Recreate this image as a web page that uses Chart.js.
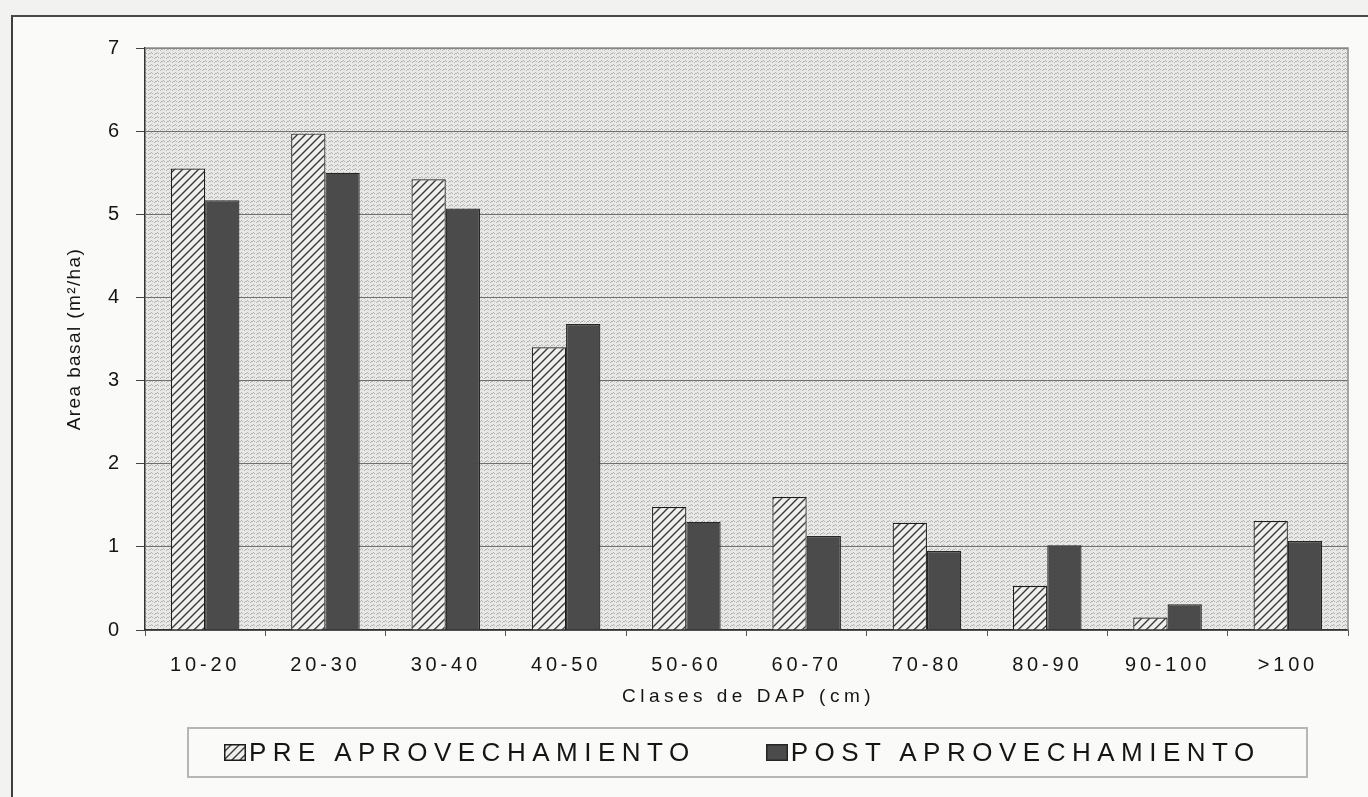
<!DOCTYPE html>
<html>
<head>
<meta charset="utf-8">
<script src="https://cdn.jsdelivr.net/npm/chart.js@4.4.1/dist/chart.umd.min.js"></script>
<style>
  html, body { margin: 0; padding: 0; background: #f2f2f0; overflow: hidden; }
  #sheet { position: absolute; left: 11px; top: 15px; width: 1400px; height: 820px;
           border-left: 2px solid #3e3e3e; border-top: 2px solid #4a4a4a; background: #fafaf9; }
  #wrap { position: absolute; left: 0; top: 0; width: 1368px; height: 797px; }
  #legend { position: absolute; left: 187px; top: 727px; width: 1121px; height: 51px; box-sizing: border-box;
            border: 2px solid #b6b6b4; display: flex; align-items: center; padding-left: 35px; gap: 70px;
            font: 26px "Liberation Sans", Arial, sans-serif; letter-spacing: 6.5px; color: #151515; }
  .item { display: flex; align-items: center; white-space: nowrap; }
  .item canvas { margin-right: 3px; }
</style>
</head>
<body>
<div id="sheet"></div>
<div id="wrap"><canvas id="dap-chart" width="1368" height="797"></canvas></div>
<div id="legend"></div>
<script>
const categories = ["10-20", "20-30", "30-40", "40-50", "50-60", "60-70", "70-80", "80-90", "90-100", ">100"];
const preValues = [5.55, 5.97, 5.42, 3.40, 1.48, 1.60, 1.29, 0.53, 0.15, 1.31];
const postValues = [5.17, 5.50, 5.07, 3.68, 1.30, 1.13, 0.95, 1.02, 0.31, 1.07];
const seriesNames = ["PRE APROVECHAMIENTO", "POST APROVECHAMIENTO"];
const yMax = 7;
const yStep = 1;
const yTitle = "Area basal (m²/ha)";
const xTitle = "Clases de DAP (cm)";

const FONT = "'Liberation Sans', Arial, sans-serif";
const INK = "#151515";

// diagonal "/" hatching on a pale ground
function hatch(ctx) {
  const size = 8;
  const c = document.createElement("canvas");
  c.width = c.height = size;
  const g = c.getContext("2d");
  g.fillStyle = "#efefed";
  g.fillRect(0, 0, size, size);
  g.strokeStyle = "#3a3a3a";
  g.lineWidth = 1.4;
  g.beginPath();
  g.moveTo(-1, size + 1); g.lineTo(size + 1, -1);
  g.moveTo(-1, 1); g.lineTo(1, -1);
  g.moveTo(size - 1, size + 1); g.lineTo(size + 1, size - 1);
  g.stroke();
  return ctx.createPattern(c, "repeat");
}

// fine wavy dot texture behind the bars
function paper(ctx) {
  const c = document.createElement("canvas");
  c.width = 6; c.height = 4;
  const g = c.getContext("2d");
  g.fillStyle = "#e8e8e6";
  g.fillRect(0, 0, 6, 4);
  g.fillStyle = "#b4b4b2";
  [[0, 1], [1, 0], [2, 1], [4, 2], [5, 1]].forEach(([x, y]) => g.fillRect(x, y, 1, 1));
  return ctx.createPattern(c, "repeat");
}

const seriesFill = [ctx => hatch(ctx), () => "#4b4b4b"];
const seriesBorder = ["#1c1c1c", "#262626"];

const spacing = {
  id: "spacing",
  beforeLayout(chart) { chart.ctx.letterSpacing = "3.8px"; },
  beforeDraw(chart) { chart.ctx.letterSpacing = "3.8px"; },
};

const plotFrame = {
  id: "plotFrame",
  beforeDraw(chart) {
    const { ctx, chartArea: a } = chart;
    ctx.save();
    ctx.fillStyle = paper(ctx);
    ctx.fillRect(a.left, a.top, a.right - a.left, a.bottom - a.top);
    ctx.restore();
  },
  beforeDatasetsDraw(chart) {
    const { ctx, chartArea: a } = chart;
    ctx.save();
    ctx.strokeStyle = "#8c8c8a";
    ctx.lineWidth = 1.5;
    ctx.beginPath();
    ctx.moveTo(a.left, a.top);
    ctx.lineTo(a.right, a.top);
    ctx.lineTo(a.right, a.bottom);
    ctx.stroke();
    ctx.restore();
  },
};

const axisTitles = {
  id: "axisTitles",
  afterDraw(chart) {
    const { ctx, chartArea: a } = chart;
    ctx.save();
    ctx.fillStyle = INK;
    ctx.textAlign = "center";
    ctx.textBaseline = "middle";

    ctx.font = `19px ${FONT}`;
    ctx.letterSpacing = "1.4px";
    ctx.save();
    ctx.translate(75, (a.top + a.bottom) / 2);
    ctx.rotate(-Math.PI / 2);
    ctx.fillText(yTitle, 0, 0);
    ctx.restore();

    ctx.font = `19px ${FONT}`;
    ctx.letterSpacing = "4.5px";
    ctx.fillText(xTitle, (a.left + a.right) / 2 + 2, 697);
    ctx.restore();
  },
};

const canvas = document.getElementById("dap-chart");
const c2d = canvas.getContext("2d");

const chart = new Chart(canvas, {
  type: "bar",
  data: {
    labels: categories,
    datasets: [preValues, postValues].map((values, i) => ({
      label: seriesNames[i],
      data: values,
      backgroundColor: seriesFill[i](c2d),
      borderColor: seriesBorder[i],
      borderWidth: 1.2,
      barPercentage: 1,
      categoryPercentage: 0.57,
    })),
  },
  options: {
    responsive: false,
    animation: false,
    devicePixelRatio: 1,
    layout: { padding: { left: 0, top: 48, right: 20, bottom: 0 } },
    plugins: { legend: { display: false }, tooltip: { enabled: false } },
    scales: {
      x: {
        afterFit(scale) { scale.height = 167; },
        grid: { drawOnChartArea: false, drawTicks: true, tickLength: 6, tickColor: "#555", offset: true },
        border: { color: "#333", width: 1.5 },
        ticks: { color: INK, font: { family: FONT, size: 20 }, padding: 17, maxRotation: 0, autoSkip: false },
      },
      y: {
        min: 0,
        max: yMax,
        afterFit(scale) { scale.width = 145; },
        grid: { color: "#707070", lineWidth: 1, tickLength: 9, tickColor: "#444" },
        border: { color: "#333", width: 1.5 },
        ticks: { stepSize: yStep, color: INK, font: { family: FONT, size: 20 }, padding: 13 },
      },
    },
  },
  plugins: [spacing, plotFrame, axisTitles],
});

// legend box built from the datasets
const legend = document.getElementById("legend");
chart.data.datasets.forEach((ds, i) => {
  const item = document.createElement("div");
  item.className = "item";
  const icon = document.createElement("canvas");
  icon.width = 22; icon.height = 17;
  const ictx = icon.getContext("2d");
  ictx.fillStyle = seriesFill[i](ictx);
  ictx.fillRect(0, 0, 22, 17);
  ictx.strokeStyle = seriesBorder[i];
  ictx.lineWidth = 1.5;
  ictx.strokeRect(0.75, 0.75, 20.5, 15.5);
  const text = document.createElement("span");
  text.textContent = ds.label;
  item.append(icon, text);
  legend.append(item);
});
</script>
</body>
</html>
